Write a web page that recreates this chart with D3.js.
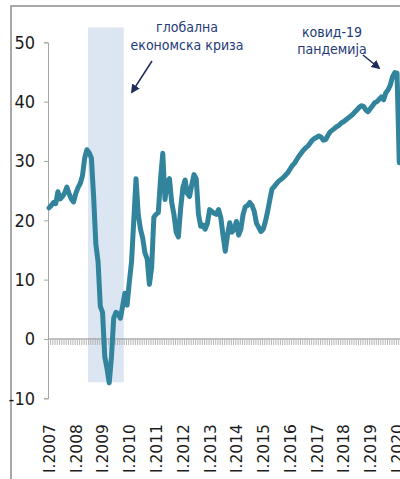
<!DOCTYPE html>
<html>
<head>
<meta charset="utf-8">
<script src="https://cdn.jsdelivr.net/npm/d3@7/dist/d3.min.js"></script>
<style>
  html, body { margin: 0; padding: 0; background: #fff; }
  svg { display: block; }
</style>
</head>
<body>
<svg id="chart" width="400" height="479"></svg>
<script>
// Monthly series, January 2007 – February 2020
const startYear = 2007;
const values = [
  // 2007
  22.1, 22.5, 23.0, 22.8, 24.8, 23.6, 24.0, 24.6, 25.6, 24.5, 23.6, 23.1,
  // 2008
  24.5, 25.5, 26.2, 27.5, 30.5, 31.9, 31.4, 30.5, 24.0, 16.0, 13.0, 5.5,
  // 2009
  4.5, -3.0, -5.0, -7.4, -3.0, 3.5, 4.5, 4.2, 3.5, 5.5, 7.7, 5.7,
  // 2010
  9.6, 13.0, 20.0, 27.0, 21.0, 18.5, 17.0, 14.5, 13.5, 9.2, 12.0, 20.5,
  // 2011
  21.0, 21.3, 27.0, 31.3, 23.5, 26.5, 27.0, 23.0, 21.0, 18.0, 17.2, 22.0,
  // 2012
  25.5, 26.8, 24.5, 24.0, 26.0, 27.7, 27.0, 21.0, 19.0, 19.2, 18.5, 19.5,
  // 2013
  21.8, 21.5, 21.2, 21.0, 21.8, 20.5, 17.5, 14.8, 17.5, 19.6, 18.0, 18.5,
  // 2014
  19.8, 17.5, 18.5, 21.0, 22.3, 22.5, 23.0, 22.5, 21.5, 19.5, 18.8, 18.1,
  // 2015
  18.5, 19.8, 21.5, 23.5, 25.3, 25.7, 26.2, 26.6, 26.9, 27.2, 27.6, 28.0,
  // 2016
  28.6, 29.2, 29.6, 30.2, 30.8, 31.3, 31.8, 32.2, 32.5, 33.0, 33.5, 33.8,
  // 2017
  34.0, 34.2, 34.0, 33.5, 33.6, 34.3, 34.9, 35.2, 35.5, 35.8, 36.0, 36.4,
  // 2018
  36.6, 36.9, 37.2, 37.5, 37.8, 38.2, 38.6, 39.0, 39.3, 39.2, 38.6, 38.3,
  // 2019
  38.8, 39.3, 39.8, 40.0, 40.4, 40.8, 40.3, 41.5, 42.0, 42.8, 44.2, 44.9,
  // 2020
  44.8, 29.7
];

// Tick labels on the category axis (one per January)
const yearLabels = ["I.2007","I.2008","I.2009","I.2010","I.2011","I.2012","I.2013",
                    "I.2014","I.2015","I.2016","I.2017","I.2018","I.2019","I.2020"];
const yTicks = [-10, 0, 10, 20, 30, 40, 50];

// Shaded crisis period (month indices, inclusive) and its vertical extent
const crisisMonths = [18, 33];
const crisisRange = [-7.3, 52.5];

// Annotation texts
const crisisNote = ["глобална", "економска криза"];
const covidNote = ["ковид-19", "пандемија"];

const svg = d3.select("#chart");

const x = d3.scaleLinear().domain([0, 157]).range([49, 49 + 157 * 2.231]);
const y = d3.scaleLinear().domain([-10, 50]).range([398.3, 42.3]);

// outer frame
svg.append("path")
  .attr("d", "M11,479 L11,6 L400,6")
  .attr("fill", "none")
  .attr("stroke", "#8c8c8c")
  .attr("stroke-width", 1.5);

// crisis band
svg.append("rect")
  .attr("x", x(crisisMonths[0] - 0.5))
  .attr("width", x(crisisMonths[1] + 0.5) - x(crisisMonths[0] - 0.5))
  .attr("y", y(crisisRange[1]))
  .attr("height", y(crisisRange[0]) - y(crisisRange[1]))
  .attr("fill", "#dce5f2");

// y axis
const yAxis = svg.append("g")
  .attr("transform", "translate(48,0)")
  .call(d3.axisLeft(y).tickValues(yTicks).tickSize(4).tickPadding(9)
    .tickFormat(d => String(d)));
yAxis.select(".domain").attr("stroke", "#a6a6a6");
yAxis.selectAll(".tick line").attr("stroke", "#a6a6a6");
yAxis.selectAll(".tick text")
  .attr("font-family", "'Liberation Sans Narrow', 'DejaVu Sans Condensed', 'Liberation Sans', sans-serif")
  .attr("font-size", 18)
  .attr("fill", "#1a1a1a");

// zero line with monthly minor ticks
const months = d3.range(0, 159);
const zeroAxis = svg.append("g")
  .attr("transform", `translate(0,${y(0)})`)
  .call(d3.axisBottom(x).tickValues(months.map(m => m - 0.5)).tickSize(6).tickFormat(""));
zeroAxis.select(".domain").attr("stroke", "#8c8c8c").attr("d", `M48,0H400`);
zeroAxis.selectAll(".tick line").attr("stroke", "#b4b4b4").attr("stroke-width", 1);

// year labels, rotated
const labelAxis = svg.append("g")
  .attr("transform", "translate(0,410)")
  .call(d3.axisBottom(x).tickValues(yearLabels.map((_, i) => i * 12))
    .tickSize(0).tickFormat((d, i) => yearLabels[i]));
labelAxis.select(".domain").remove();
labelAxis.selectAll(".tick text")
  .attr("font-family", "'DejaVu Sans', sans-serif")
  .attr("font-size", 15.5)
  .attr("fill", "#1a1a1a")
  .attr("transform", "rotate(-90)")
  .attr("text-anchor", "start")
  .attr("x", -63)
  .attr("y", 0)
  .attr("dy", "0.35em");

// series line
const line = d3.line()
  .x((d, i) => x(i))
  .y(d => y(d));
svg.append("path")
  .datum(values)
  .attr("d", line)
  .attr("fill", "none")
  .attr("stroke", "#31849b")
  .attr("stroke-width", 5)
  .attr("stroke-linejoin", "round")
  .attr("stroke-linecap", "round");

// annotations
const noteColor = "#1f3a78";
const noteFont = "'Liberation Sans Narrow', 'DejaVu Sans Condensed', 'Liberation Sans', sans-serif";

svg.append("defs").append("marker")
  .attr("id", "arrow")
  .attr("viewBox", "0 0 10 10")
  .attr("refX", 8).attr("refY", 5)
  .attr("markerWidth", 6).attr("markerHeight", 6)
  .attr("orient", "auto")
  .append("path")
  .attr("d", "M0,0 L10,5 L0,10 z")
  .attr("fill", "#1f2d5a");

const crisisText = svg.append("text")
  .attr("font-family", noteFont)
  .attr("font-size", 14)
  .attr("fill", noteColor)
  .attr("text-anchor", "middle");
crisisNote.forEach((t, i) => crisisText.append("tspan").attr("x", 187).attr("y", 32 + i * 18).text(t));

const covidText = svg.append("text")
  .attr("font-family", noteFont)
  .attr("font-size", 14)
  .attr("fill", noteColor)
  .attr("text-anchor", "middle");
covidNote.forEach((t, i) => covidText.append("tspan").attr("x", 332).attr("y", 37 + i * 17).text(t));

svg.append("line")
  .attr("x1", 152).attr("y1", 61).attr("x2", 132).attr("y2", 92)
  .attr("stroke", "#1f2d5a").attr("stroke-width", 1.5)
  .attr("marker-end", "url(#arrow)");
svg.append("line")
  .attr("x1", 363).attr("y1", 55).attr("x2", 379).attr("y2", 68)
  .attr("stroke", "#1f2d5a").attr("stroke-width", 1.5)
  .attr("marker-end", "url(#arrow)");
</script>
</body>
</html>
